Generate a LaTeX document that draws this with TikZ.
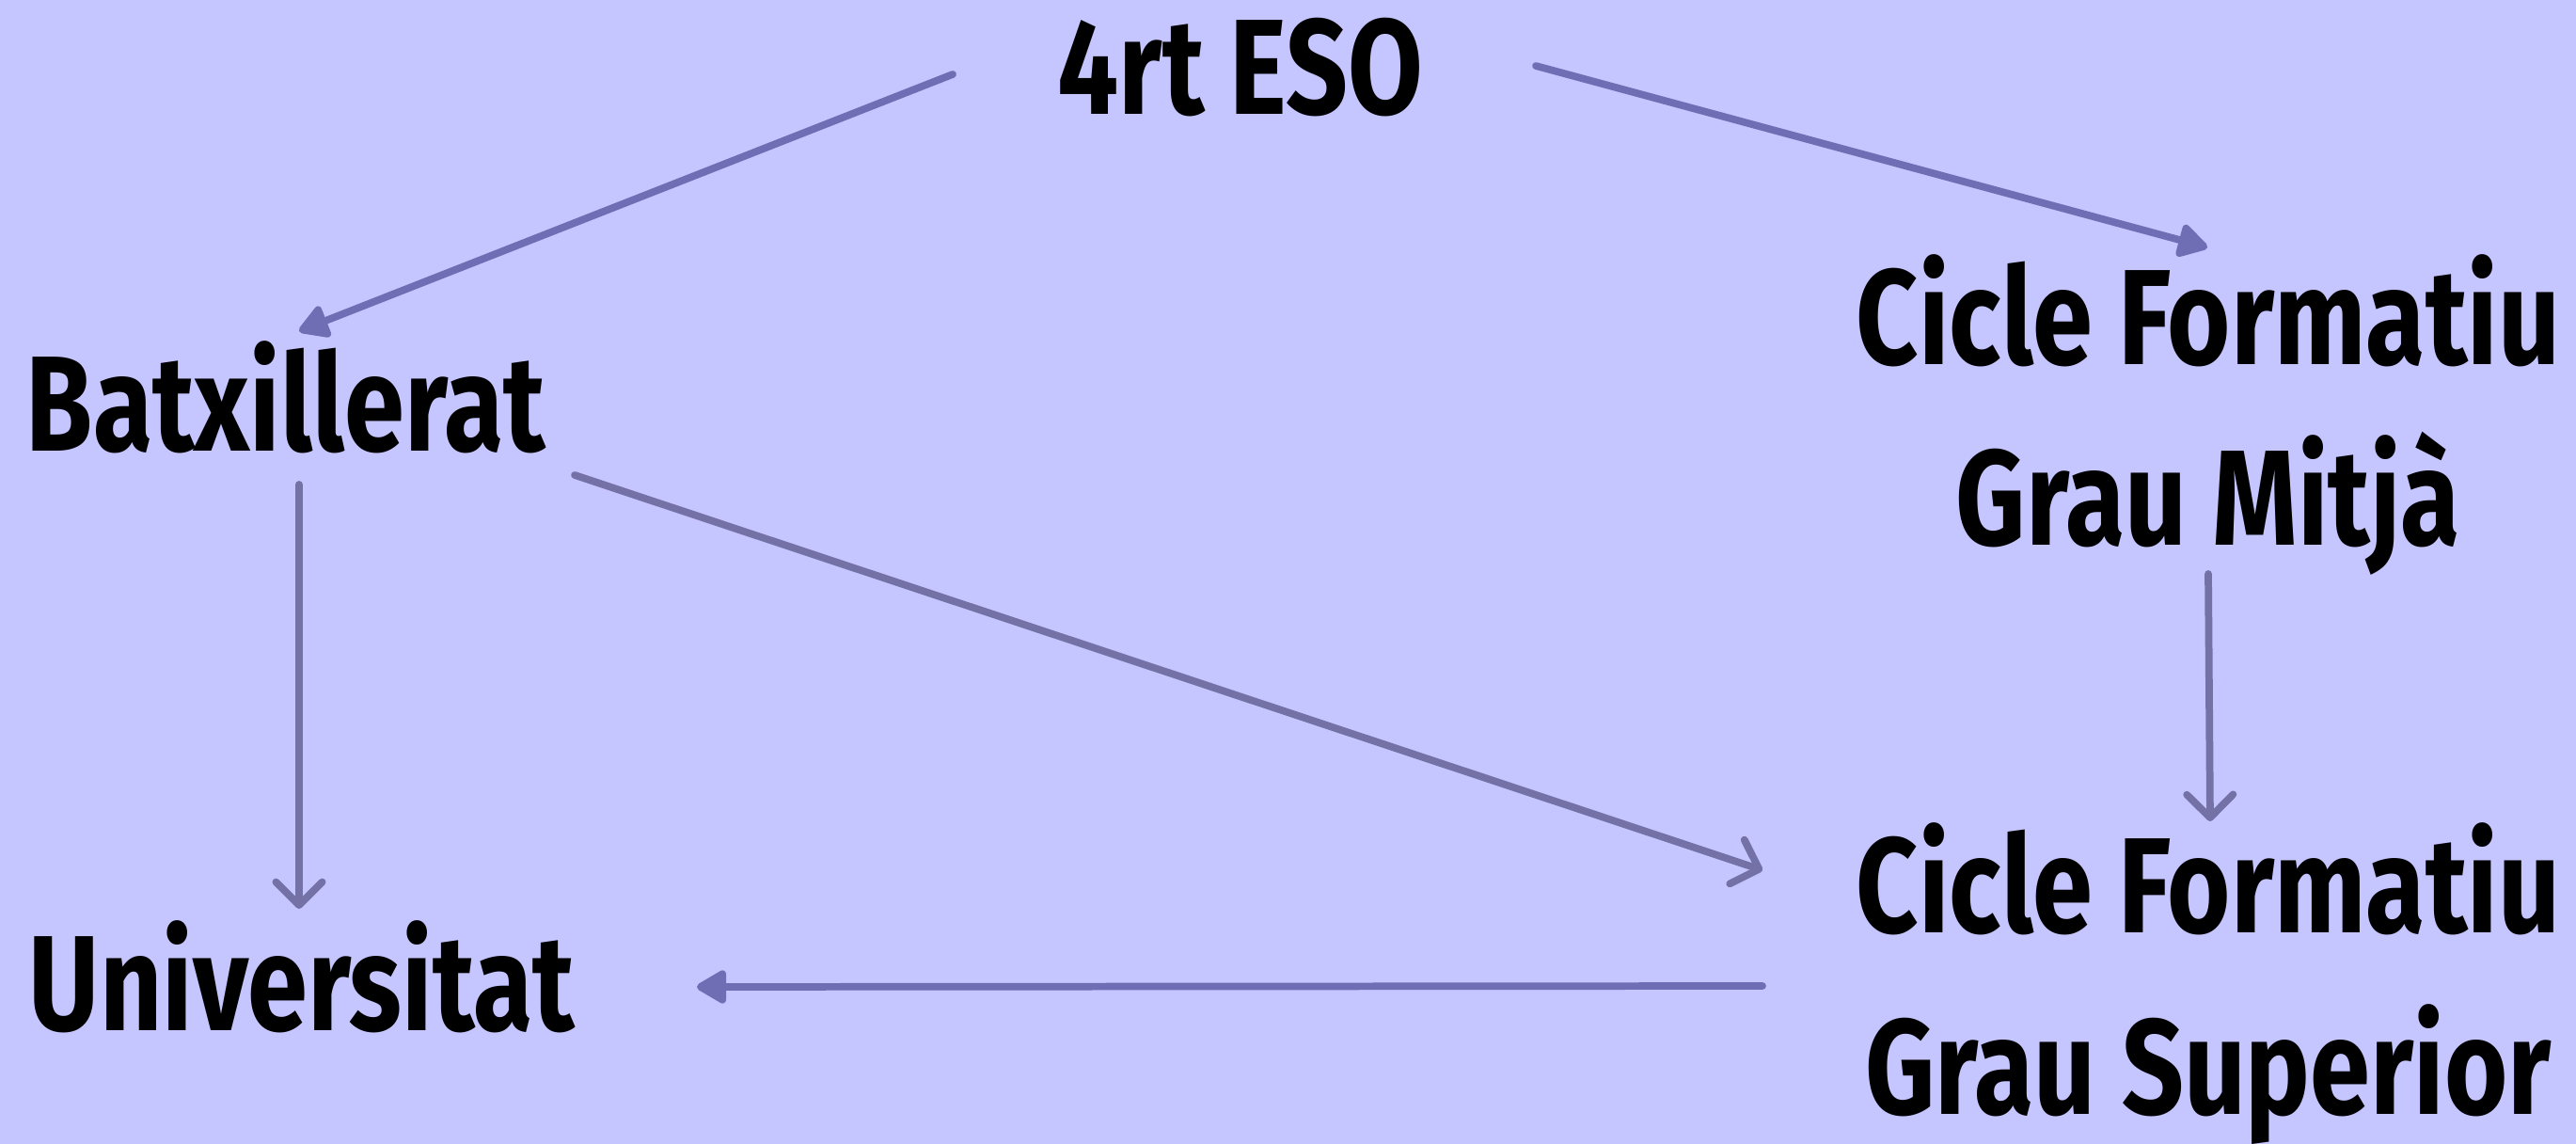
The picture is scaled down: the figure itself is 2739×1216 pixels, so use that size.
\documentclass[tikz,border=0pt]{standalone}
\usepackage{fontspec}
\setmainfont{Fira Sans}[FakeStretch=0.8]
\usetikzlibrary{arrows.meta}
\definecolor{bg}{HTML}{C5C5FF}
\definecolor{arrfill}{HTML}{6F6DB4}
\definecolor{arrline}{HTML}{7371A6}
\begin{document}
\begin{tikzpicture}[x=0.01cm,y=-0.01cm,
  lbl/.style={font=\bfseries\fontsize{41}{54.6}\selectfont, inner sep=0pt, align=center, text=black},
  solidarr/.style={draw=arrfill, fill=arrfill, line width=2.2pt, line cap=round, -{Triangle[round,length=10pt,width=11pt]}},
  barbarr/.style={draw=arrline, line width=2.2pt, line cap=round, -{Straight Barb[round,length=7pt,width=14pt]}}]
\fill[bg] (0,0) rectangle (2739,1216);
\useasboundingbox (0,0) rectangle (2739,1216);
\node[lbl, anchor=base] (eso) at (1319,122) {4rt ESO};
\node[lbl, anchor=base] (batx) at (304,480) {Batxillerat};
\node[lbl, anchor=base] (univ) at (321,1095) {Universitat};
\node[lbl, anchor=base] (cfgm) at (2348,580) {Cicle Formatiu\\Grau Mitjà};
\node[lbl, anchor=base] (cfgs) at (2348,1184) {Cicle Formatiu\\Grau Superior};
\coordinate (a1s) at (1013,79);  \coordinate (a1e) at (318,352);
\coordinate (a2s) at (1633,70);  \coordinate (a2e) at (2347,263);
\coordinate (a3s) at (611,505);  \coordinate (a3e) at (1874,925);
\coordinate (a4s) at (318,515);  \coordinate (a4e) at (318,966);
\coordinate (a5s) at (2348,610); \coordinate (a5e) at (2350,873);
\coordinate (a6s) at (1874,1048);\coordinate (a6e) at (741,1049);
\draw[solidarr] (a1s) -- (a1e);
\draw[solidarr] (a2s) -- (a2e);
\draw[barbarr] (a3s) -- (a3e);
\draw[barbarr] (a4s) -- (a4e);
\draw[barbarr] (a5s) -- (a5e);
\draw[solidarr] (a6s) -- (a6e);
\end{tikzpicture}
\end{document}
